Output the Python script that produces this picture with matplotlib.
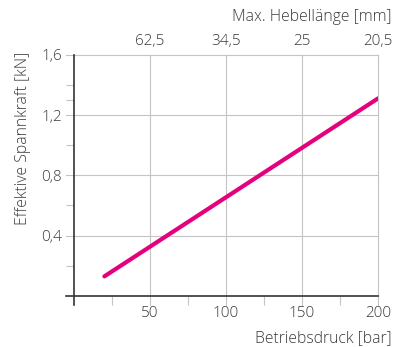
import matplotlib
matplotlib.use("Agg")
import matplotlib.pyplot as plt

# Data
pressure = [20, 200]          # Betriebsdruck [bar]
force = [0.13, 1.31]          # Effektive Spannkraft [kN]
x_ticks = [50, 100, 150, 200]
x_minor = [25, 75, 125, 175]
y_ticks = [0.4, 0.8, 1.2, 1.6]
y_labels = ["0,4", "0,8", "1,2", "1,6"]
y_minor = [0.2, 0.6, 1.0, 1.3, 1.4]
top_labels = ["62,5", "34,5", "25", "20,5"]

plt.rcParams['font.family'] = ['Open Sans', 'DejaVu Sans']
plt.rcParams['font.weight'] = 'light'
txt = '#3a3a3a'
grid_c = '#c4c4c4'
fs = 11
fl = 11.3

fig = plt.figure(figsize=(3.93, 3.47), dpi=100)
W, H = 393, 347
left, right, top, bottom = 66.4, 378, 54.7, 305
ax = fig.add_axes([left / W, (H - bottom) / H, (right - left) / W, (bottom - top) / H])

ax.plot(pressure, force, color='#e5007d', lw=3.0, solid_capstyle='round', zorder=5)

ax.set_xlim(-5, 200)
ax.set_ylim(-0.06, 1.6)

for s in ['top', 'right']:
    ax.spines[s].set_visible(False)
ax.spines['left'].set_position(('data', 0))
ax.spines['bottom'].set_position(('data', 0))
for s in ['left', 'bottom']:
    ax.spines[s].set_color('#333333')
    ax.spines[s].set_linewidth(1.2)
    ax.spines[s].set_zorder(4)

ax.set_xticks(x_ticks)
ax.set_xticklabels([str(v) for v in x_ticks])
ax.set_xticks(x_minor, minor=True)
ax.set_yticks(y_ticks)
ax.set_yticklabels(y_labels)
ax.set_yticks(y_minor, minor=True)

ax.tick_params(axis='both', which='major', length=0, labelsize=fs, labelcolor=txt)
ax.tick_params(axis='x', which='major', pad=7.5)
ax.tick_params(axis='y', which='major', pad=8.5)
ax.tick_params(axis='x', which='minor', length=6.5, width=0.8, color=grid_c, direction='out')
ax.tick_params(axis='y', which='minor', length=6, width=0.8, color=grid_c, direction='out')

ax.grid(True, which='major', color=grid_c, lw=0.8)
for gl in ax.get_xgridlines() + ax.get_ygridlines():
    gl.set_clip_on(False)

ax.text(-(left - 23) / (right - left), 1.0 + (top - 52) / (bottom - top),
        'Effektive Spannkraft [kN]', transform=ax.transAxes, rotation=90,
        ha='center', va='top', fontsize=fl, color=txt)

ax.text((392 - left) / (right - left), -(338 - bottom) / (bottom - top),
        'Betriebsdruck [bar]', transform=ax.transAxes, ha='right', va='center',
        fontsize=fl, color=txt)

ax2 = ax.twiny()
ax2.set_xlim(ax.get_xlim())
ax2.set_xticks(x_ticks)
ax2.set_xticklabels(top_labels)
ax2.tick_params(axis='x', length=0, labelsize=fs, labelcolor=txt, pad=4)
for s in ax2.spines.values():
    s.set_visible(False)

ax.text((391 - left) / (right - left), 1 + (top - 17) / (bottom - top),
        'Max. Hebellänge [mm]', transform=ax.transAxes, ha='right', va='center',
        fontsize=fl, color=txt)

fig.savefig('out.png', dpi=100)
